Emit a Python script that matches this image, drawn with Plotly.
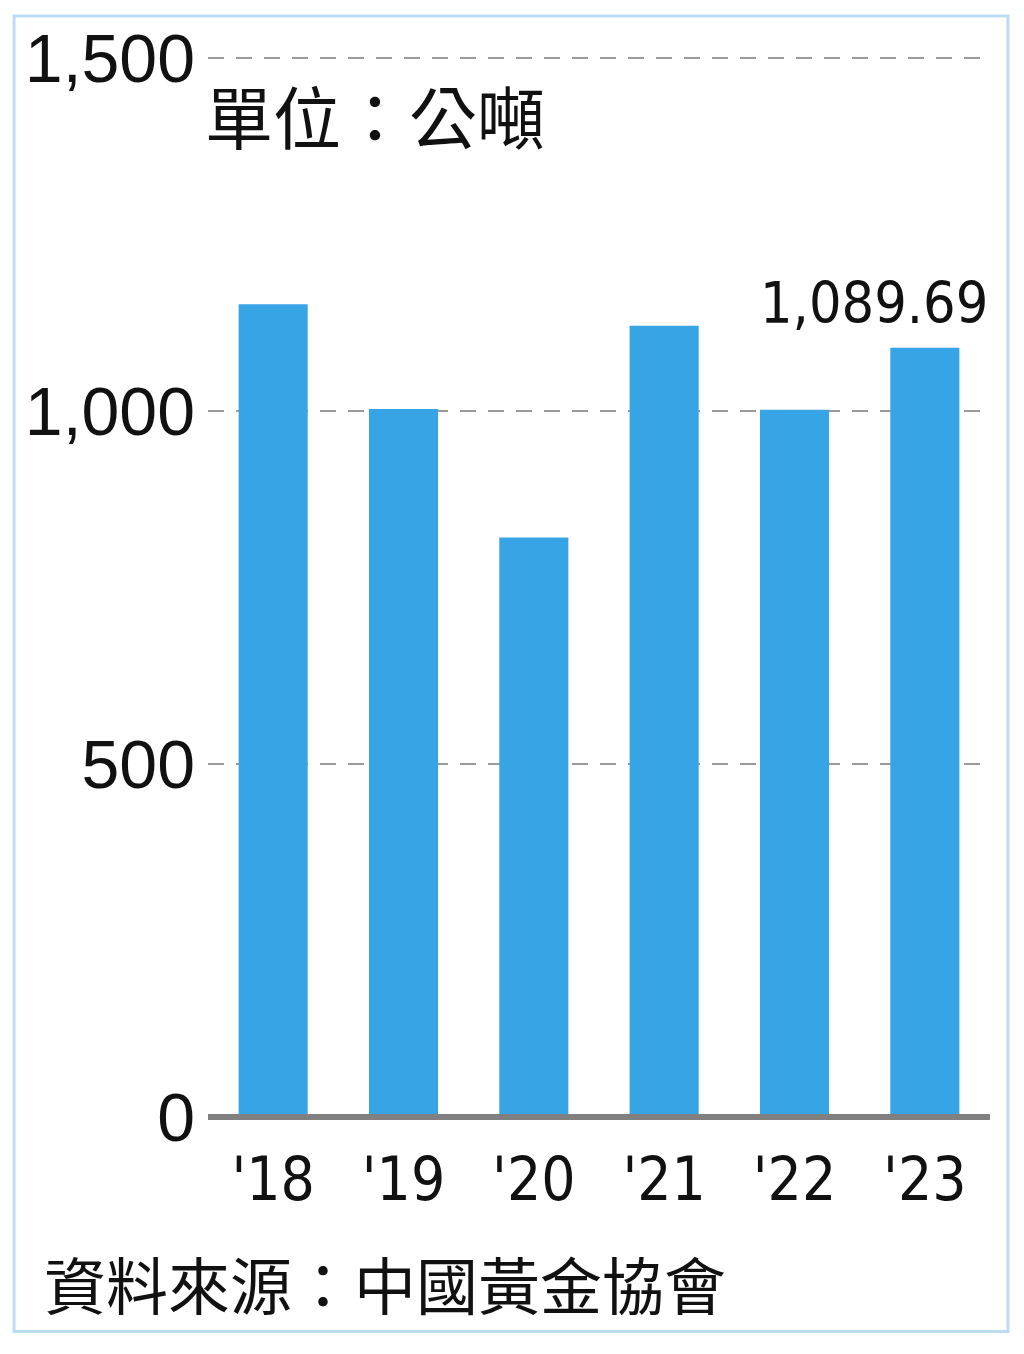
import plotly.graph_objects as go

# 中國黃金消費量 (公噸)
years = ["'18", "'19", "'20", "'21", "'22", "'23"]
tonnes = [1151.43, 1002.78, 820.98, 1120.90, 1001.74, 1089.69]
y_ticks = [0, 500, 1000, 1500]
y_tick_text = ["0", "500", "1,000", "1,500"]

unit_text = "單位：公噸"
source_text = "資料來源：中國黃金協會"

bar_color = "#37a5e5"
cjk_font = "Noto Sans CJK TC"
num_font = "Liberation Sans"
narrow_font = "DejaVu Sans Condensed"

fig = go.Figure()
fig.add_trace(go.Bar(
    x=years,
    y=tonnes,
    marker=dict(color=bar_color, line=dict(width=0)),
    width=0.53,
    hoverinfo="x+y",
))

# value label on the last bar only
fig.add_annotation(
    x=1, xref="paper", y=tonnes[-1], yref="y",
    text=f"{tonnes[-1]:,.2f}",
    showarrow=False, xanchor="right", yanchor="bottom",
    yshift=10,
    font=dict(family=narrow_font, size=57, color="#111111"),
)
fig.add_annotation(
    x=0, xref="paper", y=0.94, yref="paper",
    text=unit_text, showarrow=False,
    xanchor="left", yanchor="middle", xshift=-5,
    font=dict(family=cjk_font, size=68, color="#111111"),
)
fig.add_annotation(
    x=-0.212, xref="paper", y=-0.1554, yref="paper",
    text=source_text, showarrow=False,
    xanchor="left", yanchor="middle",
    font=dict(family=cjk_font, size=62, color="#111111"),
)

# baseline over the bar bottoms (paper ref so it is not clipped)
fig.add_shape(type="line", xref="paper", x0=0, x1=1, yref="paper", y0=0, y1=0,
              line=dict(color="#808080", width=6), layer="above")
# light blue frame
fig.add_shape(type="rect", xref="paper", yref="paper",
              x0=-0.248, x1=1.023, y0=-0.2013, y1=1.0328,
              line=dict(color="#bcdcf4", width=3), layer="below")

fig.update_layout(
    width=1024, height=1354,
    margin=dict(l=200, r=42, t=41, b=245),
    plot_bgcolor="white", paper_bgcolor="white",
    showlegend=False,
    bargap=0.47,
)
fig.update_xaxes(
    showgrid=False, zeroline=False, showline=False, ticks="",
    tickfont=dict(family=narrow_font, size=60, color="#111111"),
    ticklabelstandoff=22,
)
fig.update_yaxes(
    range=[0, 1510],
    tickvals=y_ticks, ticktext=y_tick_text,
    showgrid=True, gridcolor="#9a9a9a", gridwidth=2, griddash="16px,12px",
    zeroline=False, showline=False, ticks="",
    tickfont=dict(family=num_font, size=68, color="#111111"),
    ticklabelstandoff=12,
)

fig.write_html("out.html")
